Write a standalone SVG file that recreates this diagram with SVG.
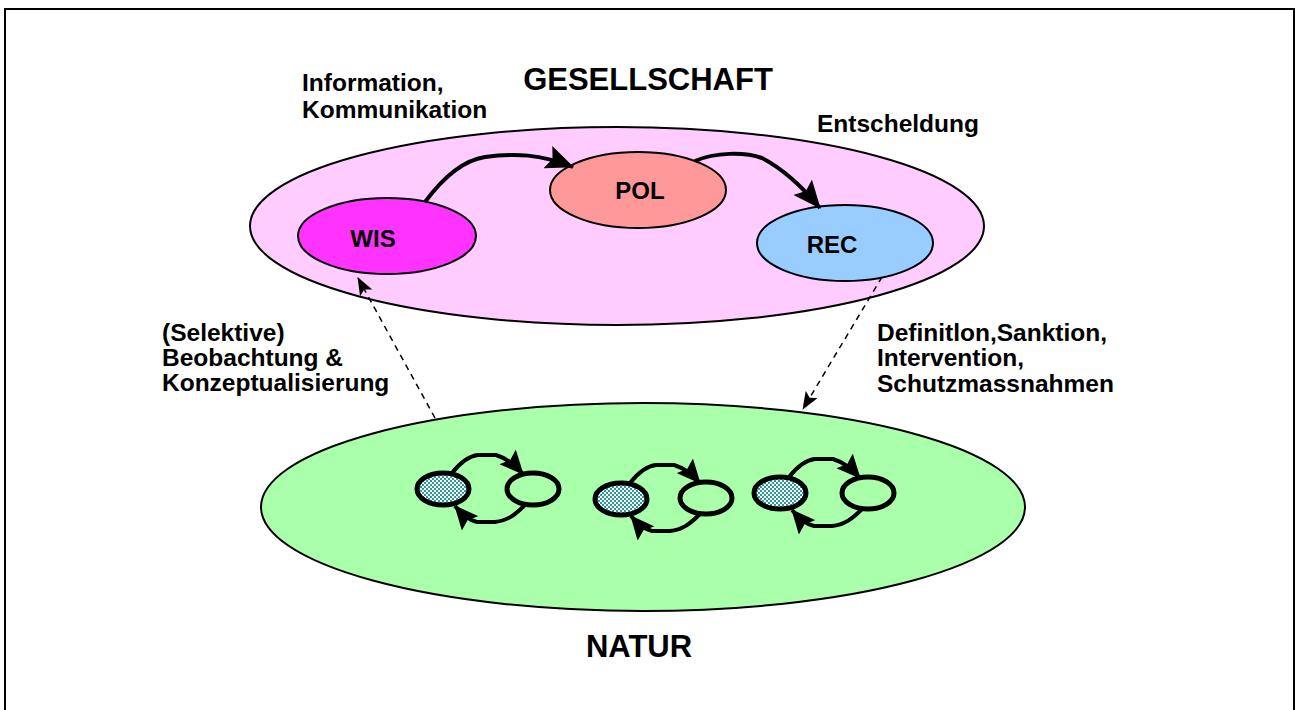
<svg xmlns="http://www.w3.org/2000/svg" width="1295" height="710" viewBox="0 0 1295 710">
<style>
text{font-family:"Liberation Sans",Arial,sans-serif;font-weight:bold;fill:#000}
.lbl{font-size:24.5px}
.big{font-size:31px}
.node{font-size:24px}
.el{stroke:#000;stroke-width:2}
.cur{fill:none;stroke:#000;stroke-width:4;stroke-linejoin:round}
.small{stroke:#000;stroke-width:5}
.sc{fill:none;stroke:#000;stroke-width:4;stroke-linejoin:round}
.dash{fill:none;stroke:#000;stroke-width:1.5;stroke-dasharray:6 5}
</style>
<defs>
<marker id="ah" markerUnits="userSpaceOnUse" viewBox="0 0 28 24" markerWidth="28" markerHeight="24" refX="27" refY="12" orient="auto">
<path d="M0,0 L28,12 L0,24 L5,12 Z" fill="#000"/>
</marker>
<marker id="ahs" markerUnits="userSpaceOnUse" viewBox="0 0 24 22" markerWidth="24" markerHeight="22" refX="23" refY="11" orient="auto">
<path d="M0,0 L24,11 L0,22 L4,11 Z" fill="#000"/>
</marker>
<marker id="ahd" markerUnits="userSpaceOnUse" viewBox="0 0 18 14" markerWidth="18" markerHeight="14" refX="17" refY="7" orient="auto">
<path d="M0,0 L18,7 L0,14 L4,7 Z" fill="#000"/>
</marker>
<pattern id="hatch" patternUnits="userSpaceOnUse" width="4" height="4">
<rect width="4" height="4" fill="#2a9a9a"/>
<rect x="0" y="0" width="2" height="2" fill="#fff"/>
<rect x="2" y="2" width="2" height="2" fill="#fff"/>
</pattern>
</defs>
<rect x="0" y="0" width="1295" height="710" fill="#fff"/>
<rect x="5" y="9" width="1289" height="710" fill="none" stroke="#000" stroke-width="2"/>

<g id="gesellschaft">
<ellipse class="el" cx="617" cy="226" rx="367" ry="99" fill="#ffccff"/>
<text class="big" x="648" y="90" text-anchor="middle">GESELLSCHAFT</text>
</g>
<g id="natur">
<ellipse class="el" cx="643" cy="507" rx="382" ry="104" fill="#aaffaa"/>
<text class="big" x="639" y="657" text-anchor="middle">NATUR</text>
</g>

<g id="wis">
<ellipse class="el" cx="387" cy="236" rx="89" ry="38" fill="#ff33ff"/>
<text class="node" x="373" y="247" text-anchor="middle">WIS</text>
</g>
<g id="pol">
<ellipse class="el" cx="638" cy="190" rx="88" ry="38" fill="#ff9999"/>
<text class="node" x="640" y="199" text-anchor="middle">POL</text>
</g>
<g id="rec">
<ellipse class="el" cx="845" cy="243" rx="88" ry="38" fill="#99ccff"/>
<text class="node" x="832" y="253" text-anchor="middle">REC</text>
</g>

<g id="natur-nodes">
<ellipse class="small" cx="443" cy="489" rx="26" ry="16" fill="url(#hatch)"/>
<ellipse class="small" cx="533" cy="489" rx="26" ry="16" fill="none"/>
<ellipse class="small" cx="621" cy="499" rx="26" ry="16" fill="url(#hatch)"/>
<ellipse class="small" cx="706" cy="498" rx="26" ry="16" fill="none"/>
<ellipse class="small" cx="780" cy="493" rx="26" ry="16" fill="url(#hatch)"/>
<ellipse class="small" cx="868" cy="493" rx="26" ry="16" fill="none"/>
</g>

<g id="labels">
<text class="lbl" x="302" y="91">Information,</text>
<text class="lbl" x="302" y="118">Kommunikation</text>
<text class="lbl" x="817" y="132">Entscheldung</text>
<text class="lbl" x="162" y="341">(Selektive)</text>
<text class="lbl" x="162" y="366">Beobachtung &amp;</text>
<text class="lbl" x="162" y="391">Konzeptualisierung</text>
<text class="lbl" x="877" y="341">Definitlon,Sanktion,</text>
<text class="lbl" x="877" y="366">Intervention,</text>
<text class="lbl" x="877" y="392">Schutzmassnahmen</text>
</g>

<g id="connectors">
<path class="cur" d="M425,202 C445,175 465,160 485,157 C515,153 540,154 573,167" marker-end="url(#ah)"/>
<path class="cur" d="M695,161 C715,152 745,152 762,158 C785,170 805,190 820,208" marker-end="url(#ah)"/>
<path class="dash" d="M435,418 L358,278" marker-end="url(#ahd)"/>
<path class="dash" d="M882,277 L803,409" marker-end="url(#ahd)"/>
<path class="sc" d="M452,473 C460,463 468,456 478,455 L496,455 C506,458 514,464 523,474" marker-end="url(#ahs)"/>
<path class="sc" d="M525,505 C515,515 507,521 495,522 L477,522 C468,520 462,514 455,506" marker-end="url(#ahs)"/>
<path class="sc" d="M630,483 C638,473 646,466 656,465 L674,465 C684,468 692,474 700,483" marker-end="url(#ahs)"/>
<path class="sc" d="M700,514 C690,524 682,530 670,531 L652,531 C643,529 637,523 631,516" marker-end="url(#ahs)"/>
<path class="sc" d="M789,477 C797,467 805,460 815,459 L833,459 C843,462 851,468 860,478" marker-end="url(#ahs)"/>
<path class="sc" d="M862,509 C852,519 844,525 832,526 L814,526 C805,524 799,518 792,510" marker-end="url(#ahs)"/>
</g>
</svg>
